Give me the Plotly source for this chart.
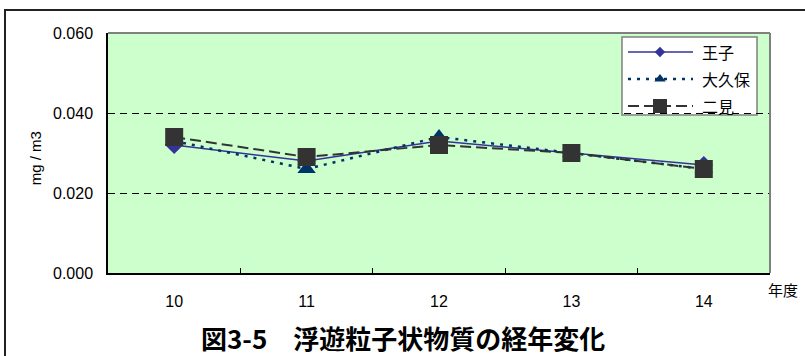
import plotly.graph_objects as go

# Fiscal years (Heisei) and annual mean suspended particulate matter, mg/m3
years = ["10", "11", "12", "13", "14"]
oji = [0.032, 0.028, 0.033, 0.030, 0.027]
okubo = [0.033, 0.026, 0.034, 0.030, 0.026]
futami = [0.034, 0.029, 0.032, 0.030, 0.026]
y_ticks = [0.000, 0.020, 0.040, 0.060]

station_names = ["王子", "大久保", "二見"]
station_values = [oji, okubo, futami]

JP = "Noto Sans CJK JP"
SANS = "Liberation Sans, Arial, sans-serif"

# per-station styles (line, plot marker, key marker size)
styles = [
    dict(line=dict(color="#333399", width=1.5),
         marker=dict(symbol="diamond", size=14, color="#333399"), key_size=8),
    dict(line=dict(color="#003366", width=2.5, dash="3px,6px"),
         marker=dict(symbol="triangle-up", size=16, color="#003366"), key_size=10),
    dict(line=dict(color="#333333", width=2, dash="11px,5px"),
         marker=dict(symbol="square", size=18, color="#333333"), key_size=14),
]

# key box geometry, in paper fractions of the plot area
KEY_X0, KEY_X1, KEY_Y0, KEY_Y1 = 0.7764, 0.9804, 0.6583, 0.9833
KEY_LINE_X0, KEY_LINE_X1, KEY_MARK_X, KEY_TEXT_X = 0.7855, 0.8837, 0.8338, 0.8943
KEY_ROWS = [0.9208, 0.8083, 0.6958]

fig = go.Figure()
for name, vals, st in zip(station_names, station_values, styles):
    fig.add_trace(go.Scatter(
        x=years, y=vals, name=name, mode="lines+markers",
        line=st["line"], marker=st["marker"], showlegend=False,
    ))

shapes = [
    # outer chart frame
    dict(type="rect", xref="paper", yref="paper",
         x0=-0.1556, x1=2.0, y0=-2.0, y1=1.0958,
         line=dict(color="#222222", width=2), layer="below"),
    # grey plot-area border (top and right)
    dict(type="line", xref="paper", yref="paper", x0=0, x1=1, y0=1, y1=1,
         line=dict(color="#808080", width=2), layer="above"),
    dict(type="line", xref="paper", yref="paper", x0=1, x1=1, y0=0, y1=1,
         line=dict(color="#808080", width=2), layer="above"),
    # key box
    dict(type="rect", xref="paper", yref="paper",
         x0=KEY_X0, x1=KEY_X1, y0=KEY_Y0, y1=KEY_Y1,
         fillcolor="white", line=dict(color="#808080", width=1.5), layer="between"),
]
annotations = [
    dict(text="mg / m3", xref="paper", yref="paper", x=-0.110, y=0.479,
         xanchor="center", yanchor="middle",
         textangle=-90, showarrow=False, font=dict(family=SANS, size=15)),
    dict(text="年度", xref="paper", yref="paper", x=1.0196, y=-0.0667,
         xanchor="center", yanchor="middle",
         showarrow=False, font=dict(family=JP, size=15)),
    dict(text="<b>図3-5　浮遊粒子状物質の経年変化</b>", xref="paper", yref="paper",
         x=0.4456, y=-0.2667, xanchor="center", yanchor="middle", showarrow=False,
         font=dict(family=JP, size=26, color="black")),
]

# key entries: line sample, marker, label
for name, st, ry in zip(station_names, styles, KEY_ROWS):
    shapes.append(dict(type="line", xref="paper", yref="paper",
                       x0=KEY_LINE_X0, x1=KEY_LINE_X1, y0=ry, y1=ry,
                       line=st["line"], layer="between"))
    annotations.append(dict(text=name, xref="paper", yref="paper",
                            x=KEY_TEXT_X, y=ry, xanchor="left", yanchor="middle",
                            showarrow=False, font=dict(family=JP, size=16)))
    fig.add_trace(go.Scatter(
        x=[KEY_MARK_X], y=[ry], xaxis="x2", yaxis="y2", mode="markers",
        marker=dict(st["marker"], size=st["key_size"]),
        showlegend=False, hoverinfo="skip",
    ))

fig.update_layout(
    width=805, height=356,
    margin=dict(l=108, r=35, t=33, b=83),
    paper_bgcolor="white",
    plot_bgcolor="#CCFFCC",
    font=dict(family=SANS, size=16, color="black"),
    showlegend=False,
    xaxis=dict(
        type="category", range=[-0.5, 4.5],
        showgrid=False, zeroline=False,
        showline=True, linecolor="black", linewidth=1.5,
        ticks="inside", ticklen=5, tickcolor="black", tickson="boundaries",
        ticklabelstandoff=13,
        tickfont=dict(family=SANS, size=16),
    ),
    yaxis=dict(
        range=[0, 0.06], tickvals=y_ticks, tickformat=".3f",
        showgrid=True, gridcolor="black", gridwidth=1, griddash="7px,5px",
        zeroline=False,
        showline=True, linecolor="black", linewidth=1.5,
        ticks="inside", ticklen=5, tickcolor="black",
        ticklabelstandoff=10,
        tickfont=dict(family=SANS, size=16),
    ),
    xaxis2=dict(range=[0, 1], overlaying="x", visible=False, fixedrange=True),
    yaxis2=dict(range=[0, 1], overlaying="y", visible=False, fixedrange=True),
    shapes=shapes,
    annotations=annotations,
)

fig.write_html("out.html")
